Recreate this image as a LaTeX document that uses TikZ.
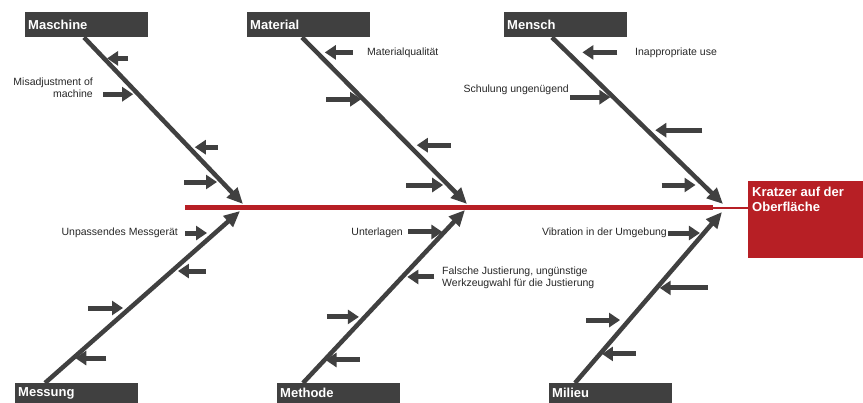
\documentclass[tikz,border=0pt]{standalone}
\usepackage{fontspec}
\setmainfont{Liberation Sans}
\usetikzlibrary{arrows.meta,calc}
\definecolor{boxgray}{HTML}{404040}
\definecolor{fishred}{HTML}{B71F25}
\definecolor{txtgray}{HTML}{262626}
\begin{document}
\begin{tikzpicture}[x=1pt,y=-1pt,
  cat/.style={fill=boxgray,text=white,font=\fontsize{13}{15}\selectfont\bfseries,
    text width=117pt,inner sep=3pt,align=left,minimum height=25pt,anchor=north west},
  bone/.style={draw=boxgray,line width=4.5pt,-{Triangle[length=16pt,width=14pt]}},
  sub/.style={draw=boxgray,line width=5pt,-{Triangle[length=11pt,width=14pt]}},
  lbl/.style={text=txtgray,font=\fontsize{10.5}{12.5}\selectfont,inner sep=0pt}]
  \useasboundingbox (0,0) rectangle (863,403);

  \node[cat] (mas) at (25,12) {Maschine};
  \node[cat] (mat) at (247,12) {Material};
  \node[cat] (men) at (504,12) {Mensch};
  \node[cat,minimum height=20pt] (mes) at (15,383) {Messung};
  \node[cat,minimum height=20pt] (met) at (277,383) {Methode};
  \node[cat,minimum height=20pt] (mil) at (549,383) {Milieu};

  \node[fill=fishred,minimum width=115pt,minimum height=77pt,inner sep=0pt,anchor=north west] (eff) at (748,181) {};
  \node[text=white,font=\fontsize{13}{15}\selectfont\bfseries,inner sep=0pt,align=left,anchor=north west]
    (efftxt) at ([shift={(4,6)}]eff.north west) {Kratzer auf der\\Oberfläche};

  \coordinate (sp0) at (185,208);
  \coordinate (sp1) at (713,208);
  \draw[fishred,line width=5pt] (sp0) -- (sp1);
  \draw[fishred,line width=2.5pt] (sp1) -- (sp1 -| eff.west);

  \coordinate (masS) at ([xshift=59pt]mas.south west);
  \coordinate (matS) at ([xshift=55pt]mat.south west);
  \coordinate (menS) at ([xshift=48pt]men.south west);
  \coordinate (mesS) at ([xshift=30pt]mes.north west);
  \coordinate (metS) at ([xshift=26pt]met.north west);
  \coordinate (milS) at ([xshift=26pt]mil.north west);
  \coordinate (masT) at (243,204);
  \coordinate (matT) at (467,204);
  \coordinate (menT) at (723,204);
  \coordinate (mesT) at (240,211);
  \coordinate (metT) at (465,210);
  \coordinate (milT) at (722,212);

  \draw[bone] (masS) -- (masT);
  \draw[bone] (matS) -- (matT);
  \draw[bone] (menS) -- (menT);
  \draw[bone] (mesS) -- (mesT);
  \draw[bone] (metS) -- (metT);
  \draw[bone] (milS) -- (milT);

  \foreach \p/\a/\b in {.126/24/3,.341/-35/-5,.659/29/6,.868/-38/-5}
    \draw[sub] ($(masS)!\p!(masT)+(\a,0)$) -- ($(masS)!\p!(masT)+(\b,0)$);
  \foreach \p/\a/\b in {.090/36/8,.371/-37/-2,.647/42/8,.886/-42/-5}
    \draw[sub] ($(matS)!\p!(matT)+(\a,0)$) -- ($(matS)!\p!(matT)+(\b,0)$);
  \foreach \p/\a/\b in {.090/50/15,.359/-43/-3,.557/55/8,.886/-42/-8}
    \draw[sub] ($(menS)!\p!(menT)+(\a,0)$) -- ($(menS)!\p!(menT)+(\b,0)$);
  \foreach \p/\a/\b in {.872/-30/-8,.651/34/6,.436/-42/-7,.145/33/2}
    \draw[sub] ($(mesS)!\p!(mesT)+(\a,0)$) -- ($(mesS)!\p!(mesT)+(\b,0)$);
  \foreach \p/\a/\b in {.873/-36/-2,.613/32/5,.382/-38/-6,.133/35/1}
    \draw[sub] ($(metS)!\p!(metT)+(\a,0)$) -- ($(metS)!\p!(metT)+(\b,0)$);
  \foreach \p/\a/\b in {.877/-36/-4,.556/51/3,.368/-43/-9,.170/36/2}
    \draw[sub] ($(milS)!\p!(milT)+(\a,0)$) -- ($(milS)!\p!(milT)+(\b,0)$);

  \node[lbl,align=right,anchor=east] (misadj) at (93,88) {Misadjustment of\\machine};
  \node[lbl,anchor=west] (matq) at (367,53) {Materialqualität};
  \node[lbl,anchor=west] (inapp) at (635,53) {Inappropriate use};
  \node[lbl,anchor=east] (schul) at (569,90) {Schulung ungenügend};
  \node[lbl,anchor=east] (unpass) at (178,233) {Unpassendes Messgerät};
  \node[lbl,anchor=east] (unter) at (403,233) {Unterlagen};
  \node[lbl,align=left,anchor=west] (falsch) at (442,278) {Falsche Justierung, ungünstige\\Werkzeugwahl für die Justierung};
  \node[lbl,anchor=east] (vibr) at (667,233) {Vibration in der Umgebung};
\end{tikzpicture}
\end{document}
